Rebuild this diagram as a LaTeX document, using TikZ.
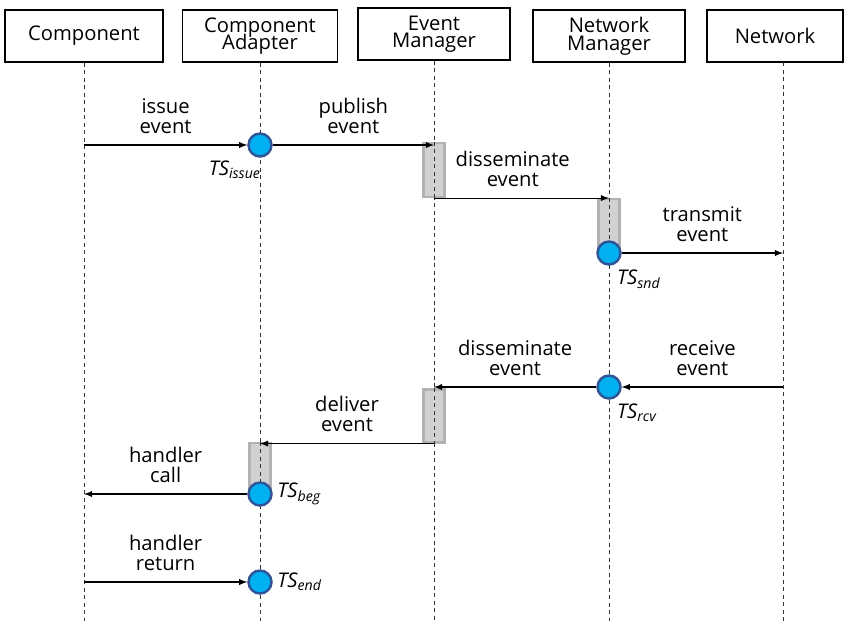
\documentclass[tikz,border=0pt]{standalone}
\usepackage{fontspec}
\setmainfont{Open Sans}
\usetikzlibrary{positioning}

\definecolor{stampfill}{RGB}{0,176,240}
\definecolor{stampline}{RGB}{47,85,151}

\tikzset{
  actor/.style={draw, line width=0.6pt, minimum height=10.4mm, align=center,
    font=\fontsize{11.5}{12}\selectfont, inner sep=1pt},
  lifeline/.style={black!80, line width=0.5pt, dash pattern=on 0.8mm off 0.7mm},
  msg/.style={-latex, line width=0.6pt},
  msglabel/.style={above=1mm, align=center, font=\fontsize{11.5}{11.5}\selectfont},
  activation/.style={draw=black!30, fill=black!18, line width=1.2pt,
    minimum width=4.2mm, inner sep=0pt},
  stamp/.style={circle, draw=stampline, fill=stampfill, line width=1.4pt,
    minimum size=4.6mm, inner sep=0pt},
  tslabel/.style={font=\fontsize{11.5}{12}\selectfont\itshape, inner sep=1pt}
}

\begin{document}
\begin{tikzpicture}[x=0.2mm, y=-0.2mm]
  \useasboundingbox (0,0) rectangle (845,621);
  \coordinate (bottom) at (0,621);

  % participants
  \node[actor, minimum width=31.6mm] (comp) at (84,36) {Component};
  \node[actor, minimum width=31mm] (adapter) at (260,36) {Component\\[-2pt]Adapter};
  \node[actor, minimum width=30.4mm] (evmgr) at (434,34) {Event\\[-2pt]Manager};
  \node[actor, minimum width=30.4mm] (netmgr) at (609,36) {Network\\[-2pt]Manager};
  \node[actor, minimum width=27.2mm] (net) at (775,36) {Network};
  \coordinate (nettop) at (783,62);

  % lifelines
  \draw[lifeline] (comp.south) -- (comp.south |- bottom);
  \draw[lifeline] (adapter.south) -- (adapter.south |- bottom);
  \draw[lifeline] (evmgr.south) -- (evmgr.south |- bottom);
  \draw[lifeline] (netmgr.south) -- (netmgr.south |- bottom);
  \draw[lifeline] (nettop) -- (nettop |- bottom);

  % activations
  \node[activation, minimum height=10.8mm] (actA) at (434,170) {};
  \node[activation, minimum height=10.8mm] (actB) at (609,226) {};
  \node[activation, minimum height=10.6mm] (actC) at (434,416) {};
  \node[activation, minimum height=10.4mm] (actD) at (260,469) {};
  \draw[lifeline] (actA.north) -- (actA.south);
  \draw[lifeline] (actB.north) -- (actB.south);
  \draw[lifeline] (actC.north) -- (actC.south);
  \draw[lifeline] (actD.north) -- (actD.south);

  % time stamps
  \node[stamp] (issue) at (260,145) {};
  \node[stamp] (snd) at (609,253) {};
  \node[stamp] (rcv) at (609,387) {};
  \node[stamp] (beg) at (260,494) {};
  \node[stamp] (end) at (260,582) {};
  \node[tslabel, below left=1mm and -2.4mm of issue] {TS\textsubscript{issue}};
  \node[tslabel, below right=1.2mm and -0.6mm of snd] {TS\textsubscript{snd}};
  \node[tslabel, below right=1.2mm and -0.6mm of rcv] {TS\textsubscript{rcv}};
  \node[tslabel, right=0.5mm of beg] {TS\textsubscript{beg}};
  \node[tslabel, right=0.5mm of end] {TS\textsubscript{end}};

  % messages
  \coordinate (issuefrom) at (comp.south |- issue);
  \draw[msg] (issuefrom) -- node[msglabel] {issue\\event} (issue);
  \coordinate (publishto) at (issue -| evmgr.south);
  \draw[msg] (issue) -- node[msglabel] {publish\\event} (publishto);
  \coordinate (dissfrom) at (actA.south);
  \coordinate (dissto) at (actB.north);
  \draw[msg] (dissfrom) -- node[msglabel, pos=0.45] {disseminate\\event} (dissfrom -| dissto);
  \coordinate (transto) at (nettop |- snd);
  \draw[msg] (snd) -- node[msglabel] {transmit\\event} (transto);
  \coordinate (recvfrom) at (nettop |- rcv);
  \draw[msg] (recvfrom) -- node[msglabel] {receive\\event} (rcv);
  \coordinate (diss2to) at (actC.north);
  \draw[msg] (rcv) -- node[msglabel] {disseminate\\event} (rcv -| diss2to);
  \coordinate (deliverfrom) at (actC.south);
  \coordinate (deliverto) at (actD.north);
  \draw[msg] (deliverfrom) -- node[msglabel] {deliver\\event} (deliverfrom -| deliverto);
  \coordinate (callto) at (comp.south |- beg);
  \draw[msg] (beg) -- node[msglabel] {handler\\call} (callto);
  \coordinate (returnfrom) at (comp.south |- end);
  \draw[msg] (returnfrom) -- node[msglabel] {handler\\return} (end);
\end{tikzpicture}
\end{document}
